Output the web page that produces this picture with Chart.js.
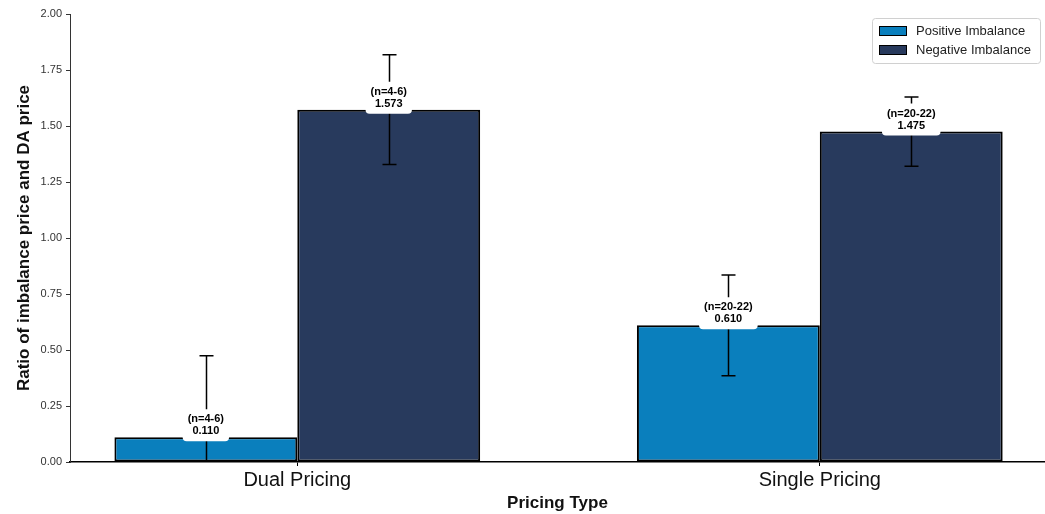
<!DOCTYPE html>
<html>
<head>
<meta charset="utf-8">
<script src="https://cdn.jsdelivr.net/npm/chart.js@4"></script>
<style>
  html, body { margin: 0; padding: 0; background: #fff; }
  #wrap { width: 1045px; height: 514px; }
</style>
</head>
<body>
<div id="wrap"><canvas id="chart"></canvas></div>
<script>
// Categorias e valores
const categories = ['Dual Pricing', 'Single Pricing'];
const seriesNames = ['Positive Imbalance', 'Negative Imbalance'];
const positiveValues = [0.110, 0.610];
const negativeValues = [1.573, 1.475];
const positiveErrors = [0.364, 0.225];
const negativeErrors = [0.245, 0.155];
const positiveN = ['(n=4-6)', '(n=20-22)'];
const negativeN = ['(n=4-6)', '(n=20-22)'];
const yTicks = [0, 0.25, 0.5, 0.75, 1.0, 1.25, 1.5, 1.75, 2.0];

const FONT = '"Liberation Sans", Arial, Helvetica, sans-serif';

function toPoints(vals) {
  return vals.map((v, i) => ({ x: i, y: v }));
}

// Barras de erro + rótulos (n=..) por cima das barras
const errorAndLabels = {
  id: 'errorAndLabels',
  afterDatasetsDraw(chart) {
    const ctx = chart.ctx;
    const y = chart.scales.y;
    const area = chart.chartArea;
    const errs = [positiveErrors, negativeErrors];
    const ns = [positiveN, negativeN];

    // barras de erro
    ctx.save();
    ctx.beginPath();
    ctx.rect(area.left, area.top - 10, area.right - area.left, area.bottom - area.top + 10);
    ctx.clip();
    ctx.strokeStyle = '#000';
    ctx.lineWidth = 1.5;
    chart.data.datasets.forEach((ds, di) => {
      const meta = chart.getDatasetMeta(di);
      meta.data.forEach((bar, i) => {
        const v = ds.data[i].y;
        const e = errs[di][i];
        const yTop = y.getPixelForValue(v + e);
        const yBot = y.getPixelForValue(v - e);
        const x = Math.round(bar.x) + 0.5;
        ctx.beginPath();
        ctx.moveTo(x, yTop);
        ctx.lineTo(x, yBot);
        ctx.moveTo(x - 7, yTop);
        ctx.lineTo(x + 7, yTop);
        if (v - e >= 0) {
          ctx.moveTo(x - 7, yBot);
          ctx.lineTo(x + 7, yBot);
        }
        ctx.stroke();
      });
    });
    ctx.restore();

    // rótulos
    ctx.save();
    ctx.font = 'bold 11px ' + FONT;
    ctx.textAlign = 'center';
    ctx.textBaseline = 'middle';
    chart.data.datasets.forEach((ds, di) => {
      const meta = chart.getDatasetMeta(di);
      meta.data.forEach((bar, i) => {
        const line1 = ns[di][i];
        const line2 = ds.data[i].y.toFixed(3);
        const w = Math.max(ctx.measureText(line1).width, ctx.measureText(line2).width) + 10;
        const top = bar.y - 28;
        const h = 32;
        ctx.fillStyle = '#fff';
        ctx.beginPath();
        ctx.roundRect(bar.x - w / 2, top, w, h, 4);
        ctx.fill();
        ctx.fillStyle = '#000';
        ctx.fillText(line1, bar.x, bar.y - 18);
        ctx.fillText(line2, bar.x, bar.y - 6);
      });
    });
    ctx.restore();
  }
};

// Legenda no canto superior direito
const boxLegend = {
  id: 'boxLegend',
  afterDraw(chart) {
    const ctx = chart.ctx;
    const x0 = 872, y0 = 18, w = 168, h = 45;
    ctx.save();
    ctx.fillStyle = 'rgba(255,255,255,0.85)';
    ctx.strokeStyle = '#d0d0d0';
    ctx.lineWidth = 1;
    ctx.beginPath();
    ctx.roundRect(x0 + 0.5, y0 + 0.5, w, h, 3);
    ctx.fill();
    ctx.stroke();
    ctx.font = '13px ' + FONT;
    ctx.textBaseline = 'middle';
    chart.data.datasets.forEach((ds, di) => {
      const cy = y0 + 13 + di * 19;
      ctx.fillStyle = ds.backgroundColor;
      ctx.fillRect(879, cy - 5, 28, 10);
      ctx.strokeStyle = '#000';
      ctx.strokeRect(879.5, cy - 4.5, 27, 9);
      ctx.fillStyle = '#222';
      ctx.fillText(ds.label, 916, cy);
    });
    ctx.restore();
  }
};

new Chart(document.getElementById('chart'), {
  type: 'bar',
  data: {
    datasets: [{
      label: seriesNames[0],
      data: toPoints(positiveValues),
      backgroundColor: '#0a7fbd',
      borderColor: '#000',
      borderWidth: 2,
      borderSkipped: false
    }, {
      label: seriesNames[1],
      data: toPoints(negativeValues),
      backgroundColor: '#283a5d',
      borderColor: '#000',
      borderWidth: 2,
      borderSkipped: false
    }]
  },
  options: {
    responsive: true,
    maintainAspectRatio: false,
    animation: false,
    datasets: { bar: { categoryPercentage: 0.7, barPercentage: 1.0 } },
    layout: { padding: { top: 14, right: 0, left: 0, bottom: 0 } },
    plugins: { legend: { display: false }, tooltip: { enabled: false } },
    scales: {
      x: {
        type: 'linear',
        offset: false,
        min: -0.435,
        max: 1.431,
        afterBuildTicks: (scale) => { scale.ticks = categories.map((c, i) => ({ value: i })); },
        afterFit: (scale) => { scale.height = 52; },
        grid: { offset: false, drawOnChartArea: false, tickLength: 4, tickColor: '#000' },
        border: { color: '#000', width: 1.5 },
        ticks: {
          font: { family: FONT, size: 20 },
          color: '#111',
          padding: 2,
          maxRotation: 0,
          callback: (v) => categories[v]
        },
        title: {
          display: true,
          text: 'Pricing Type',
          font: { family: FONT, size: 17, weight: 'bold' },
          color: '#111',
          padding: 0
        }
      },
      y: {
        min: 0,
        max: 2,
        afterBuildTicks: (scale) => { scale.ticks = yTicks.map(v => ({ value: v })); },
        afterFit: (scale) => { scale.width = 70; },
        grid: { drawOnChartArea: false, tickLength: 4, tickColor: '#333' },
        border: { color: '#333', width: 1 },
        ticks: {
          font: { family: FONT, size: 11 },
          color: '#333',
          padding: 4,
          callback: (v) => Number(v).toFixed(2)
        },
        title: {
          display: true,
          text: 'Ratio of imbalance price and DA price',
          font: { family: FONT, size: 17, weight: 'bold' },
          color: '#111',
          padding: { top: 14, bottom: 0 }
        }
      }
    }
  },
  plugins: [errorAndLabels, boxLegend]
});
</script>
</body>
</html>
